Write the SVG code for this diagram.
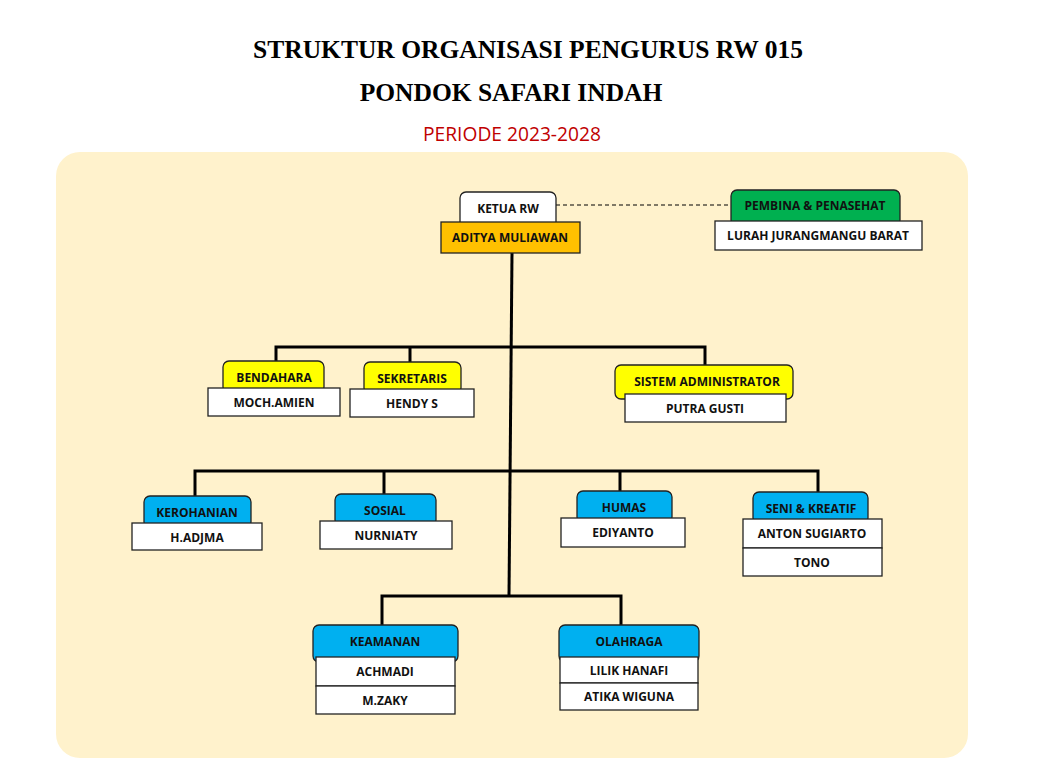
<svg xmlns="http://www.w3.org/2000/svg" width="1048" height="778" viewBox="0 0 1048 778">
<style>
.t{font-family:"Liberation Serif","Times New Roman",serif;font-weight:bold;font-size:25.5px;fill:#000;text-anchor:middle}
.p{font-family:"Open Sans","Liberation Sans",sans-serif;font-size:19.2px;fill:#C00000;text-anchor:middle}
.l{font-family:"Open Sans","Liberation Sans",sans-serif;font-weight:bold;font-size:12px;fill:#111;text-anchor:middle}
.h{stroke:#222;stroke-width:1.3}
.n{fill:#fff;stroke:#222;stroke-width:1.3}
.c{fill:none;stroke:#000;stroke-width:3}
.yl{fill:#FFFF00}.bl{fill:#00B0F0}.gr{fill:#00B050}.or{fill:#FFC000}.wh{fill:#fff}
</style>
<rect x="0" y="0" width="1048" height="778" fill="#fff"/>
<rect x="56" y="152" width="912" height="606" rx="24" fill="#FFF2CC"/>
<text class="t" x="528" y="58">STRUKTUR ORGANISASI PENGURUS RW 015</text>
<text class="t" x="511" y="101">PONDOK SAFARI INDAH</text>
<text class="p" x="512" y="141">PERIODE 2023-2028</text>
<g id="connectors">
<line x1="556" y1="205" x2="731" y2="205" stroke="#000" stroke-width="1" stroke-dasharray="4,3"/>
<path class="c" d="M512 253 L509 596"/>
<path class="c" d="M276 361 V347 H705 V365"/>
<path class="c" d="M410 347 V362"/>
<path class="c" d="M195 496 V471 H818 V492"/>
<path class="c" d="M384 471 V494"/>
<path class="c" d="M620 471 V491"/>
<path class="c" d="M382 625 V596 H621 V625"/>
</g>
<g id="ketua">
<rect class="h wh" x="460" y="192" width="96" height="36" rx="6"/>
<text class="l" x="508" y="213">KETUA RW</text>
<rect class="h or" x="441" y="222" width="139" height="31"/>
<text class="l" x="510" y="242">ADITYA MULIAWAN</text>
</g>
<g id="pembina">
<rect class="h gr" x="731" y="190" width="169" height="36" rx="6"/>
<text class="l" x="815" y="210">PEMBINA &amp; PENASEHAT</text>
<rect class="n" x="715" y="221" width="207" height="29"/>
<text class="l" x="818" y="240">LURAH JURANGMANGU BARAT</text>
</g>
<g id="bendahara">
<rect class="h yl" x="223" y="361" width="101" height="32" rx="6"/>
<text class="l" x="274" y="382">BENDAHARA</text>
<rect class="n" x="208" y="388" width="132" height="28"/>
<text class="l" x="274" y="407">MOCH.AMIEN</text>
</g>
<g id="sekretaris">
<rect class="h yl" x="364" y="362" width="97" height="32" rx="6"/>
<text class="l" x="412" y="383">SEKRETARIS</text>
<rect class="n" x="350" y="389" width="124" height="28"/>
<text class="l" x="412" y="408">HENDY S</text>
</g>
<g id="sysadmin">
<rect class="h yl" x="615" y="365" width="178" height="34" rx="6"/>
<text class="l" x="707" y="386">SISTEM ADMINISTRATOR</text>
<rect class="n" x="625" y="394" width="161" height="28"/>
<text class="l" x="705" y="413">PUTRA GUSTI</text>
</g>
<g id="kerohanian">
<rect class="h bl" x="144" y="496" width="107" height="32" rx="6"/>
<text class="l" x="197" y="517">KEROHANIAN</text>
<rect class="n" x="132" y="523" width="130" height="27"/>
<text class="l" x="197" y="542">H.ADJMA</text>
</g>
<g id="sosial">
<rect class="h bl" x="335" y="494" width="101" height="32" rx="6"/>
<text class="l" x="385" y="515">SOSIAL</text>
<rect class="n" x="320" y="521" width="132" height="28"/>
<text class="l" x="386" y="540">NURNIATY</text>
</g>
<g id="humas">
<rect class="h bl" x="577" y="491" width="95" height="32" rx="6"/>
<text class="l" x="624" y="512">HUMAS</text>
<rect class="n" x="561" y="518" width="124" height="29"/>
<text class="l" x="623" y="537">EDIYANTO</text>
</g>
<g id="seni">
<rect class="h bl" x="753" y="492" width="115" height="32" rx="6"/>
<text class="l" x="811" y="513">SENI &amp; KREATIF</text>
<rect class="n" x="743" y="519" width="139" height="29"/>
<text class="l" x="812" y="538">ANTON SUGIARTO</text>
<rect class="n" x="743" y="548" width="139" height="28"/>
<text class="l" x="812" y="567">TONO</text>
</g>
<g id="keamanan">
<rect class="h bl" x="313" y="625" width="145" height="37" rx="6"/>
<text class="l" x="385" y="646">KEAMANAN</text>
<rect class="n" x="316" y="657" width="139" height="29"/>
<text class="l" x="385" y="676">ACHMADI</text>
<rect class="n" x="316" y="686" width="139" height="28"/>
<text class="l" x="385" y="705">M.ZAKY</text>
</g>
<g id="olahraga">
<rect class="h bl" x="559" y="625" width="140" height="37" rx="6"/>
<text class="l" x="629" y="646">OLAHRAGA</text>
<rect class="n" x="560" y="657" width="138" height="26"/>
<text class="l" x="629" y="675">LILIK HANAFI</text>
<rect class="n" x="560" y="683" width="138" height="27"/>
<text class="l" x="629" y="701">ATIKA WIGUNA</text>
</g>
</svg>
